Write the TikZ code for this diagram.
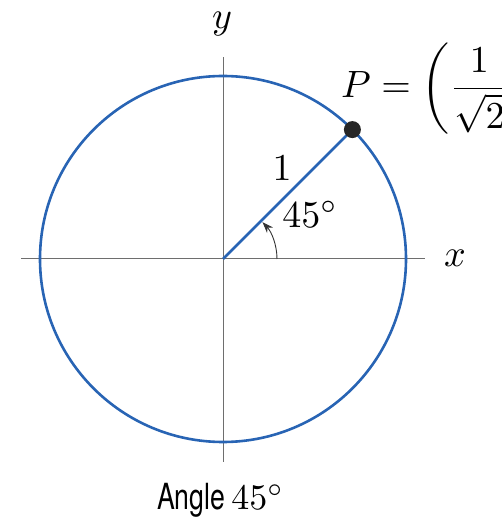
\documentclass[tikz,border=0pt]{standalone}
\usepackage{fontspec}
\setsansfont{TeX Gyre Heros}
\usetikzlibrary{arrows.meta}
\definecolor{circblue}{RGB}{40,100,180}
\definecolor{axisgray}{RGB}{110,110,110}
\newcommand{\lblm}[1]{\scalebox{3.8}{$#1$}}
\begin{document}
\begin{tikzpicture}[x=1pt,y=1pt,
  axisline/.style={draw=axisgray,line width=1pt},
  circline/.style={draw=circblue,line width=2.6pt},
  anglearc/.style={draw=black!80,line width=0.9pt,-{Stealth[length=11pt,width=8pt]}},
  lbl/.style={inner sep=0pt}]
\useasboundingbox (0,0) rectangle (502,520);
\clip (0,0) rectangle (502,520);
\coordinate (O) at (223,261);
\coordinate (xl) at (21,261);
\coordinate (xr) at (425,261);
\coordinate (yt) at (223,463);
\coordinate (yb) at (223,58);
\coordinate (P) at (352.4,390.4);
\draw[axisline] (xl) -- (xr);
\draw[axisline] (yb) -- (yt);
\draw[circline] (O) circle[radius=183pt];
\draw[circline] (O) -- (P);
\fill[black!85] (P) circle[radius=8.5pt];
\draw[anglearc] ([shift={(0:54pt)}]O) arc[start angle=0,end angle=43,radius=54pt];
\node[lbl] (one) at (282,352) {\lblm{1}};
\node[lbl] (ang) at (310,306) {\lblm{45^\circ}};
\node[lbl] (xlab) at (455,262) {\lblm{x}};
\node[lbl] (ylab) at (222,496) {\lblm{y}};
\node[lbl,anchor=base west] (plab) at (341,422) {\lblm{\displaystyle P=\left(\frac{1}{\sqrt{2}},\frac{1}{\sqrt{2}}\right)}};
\node[lbl,anchor=base west] (cap) at (157,10) {{\fontsize{36}{40}\selectfont\sffamily\scalebox{0.74}[1]{Angle}}\hspace{6pt}\scalebox{3.6}{$45^\circ$}};
\end{tikzpicture}
\end{document}
